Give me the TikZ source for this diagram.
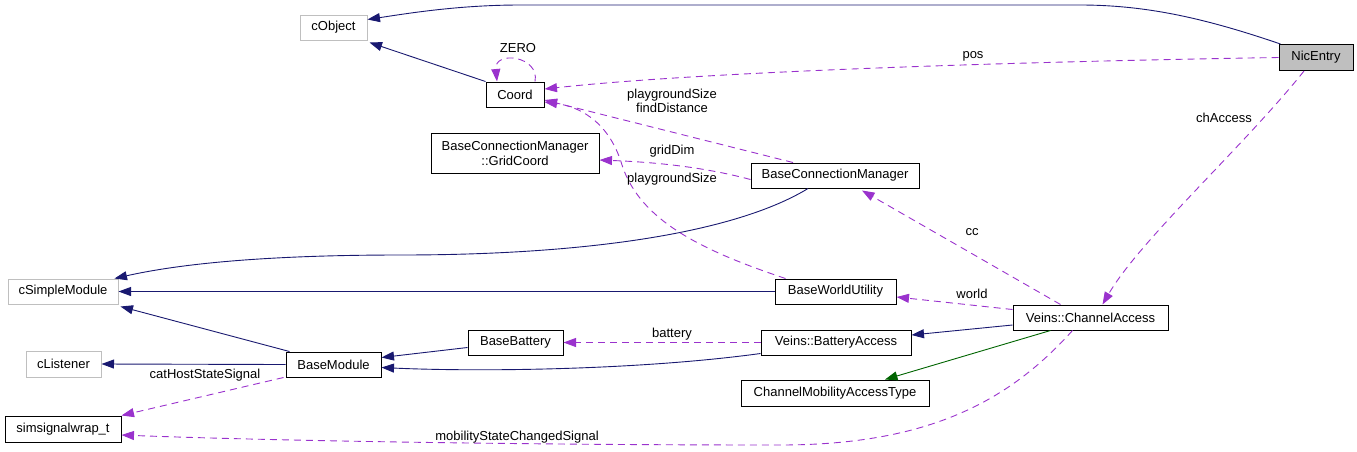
\documentclass[tikz,border=0pt]{standalone}
\usepackage{fontspec}
\setmainfont{Liberation Sans}
\usepackage{xcolor}
\usetikzlibrary{arrows.meta}

\definecolor{inhblue}{HTML}{191970}
\definecolor{usepurple}{HTML}{9A32CD}
\definecolor{tmplgreen}{HTML}{006400}
\definecolor{extgray}{HTML}{BFBFBF}

\begin{document}
\begin{tikzpicture}[x=1pt,y=-1pt,
			cls/.style={draw=black,line width=1pt,inner sep=0pt,minimum height=25,
				font=\fontsize{13}{15}\selectfont,align=center},
			ext/.style={cls,draw=extgray},
			tip/.style={-{Triangle[length=12.5pt,width=9pt]}},
			inh/.style={tip,draw=inhblue,line width=0.9pt},
			tmpl/.style={tip,draw=tmplgreen,line width=0.9pt},
			usage/.style={tip,draw=usepurple,line width=0.9pt,
				dash pattern=on 7pt off 5pt},
			lbl/.style={font=\fontsize{13}{14}\selectfont,inner sep=0pt,align=center},
			]
			\useasboundingbox (0,0) rectangle (1357,451);
			
			% 类节点（中心坐标按像素给出）
			\node[ext,minimum width=67] (cobj) at (333.5,27.5) {cObject};
			\node[cls,minimum width=58] (coord) at (515,94.5) {Coord};
			\node[cls,minimum width=168,minimum height=40] (grid) at (515,153)
				{BaseConnectionManager\\::GridCoord};
			\node[cls,minimum width=168] (bcm) at (835,175.5) {BaseConnectionManager};
			\node[cls,fill=extgray,minimum width=74,minimum height=26] (nic) at (1316,57.5) {NicEntry};
			\node[ext,minimum width=110] (csm) at (63,291.5) {cSimpleModule};
			\node[ext,minimum width=75,minimum height=26] (clis) at (63.5,364) {cListener};
			\node[cls,minimum width=116,minimum height=26] (ssw) at (63,429) {simsignalwrap\_t};
			\node[cls,minimum width=95] (bmod) at (333.5,364.5) {BaseModule};
			\node[cls,minimum width=121] (bwu) at (835.5,291.5) {BaseWorldUtility};
			\node[cls,minimum width=95] (bbat) at (515.5,342.5) {BaseBattery};
			\node[cls,minimum width=150] (bacc) at (836,342.5) {Veins::BatteryAccess};
			\node[cls,minimum width=188,minimum height=26] (cmat) at (835,393) {ChannelMobilityAccessType};
			\node[cls,minimum width=155] (cacc) at (1090.5,317.5) {Veins::ChannelAccess};
			
			% 继承关系
			\draw[inh] ([xshift=2]nic.north west) .. controls (1210,20) and (1150,5) .. (1080,5)
				-- (520,5) .. controls (460,5) and (410,13) .. ([yshift=8]cobj.east);
			\draw[inh] (coord.north west) -- ([xshift=2,yshift=-2]cobj.south east);
			\draw[inh] ([xshift=-27]bcm.south) .. controls (740,230) and (600,255) .. (400,255)
				.. controls (250,255) and (170,266) .. ([xshift=-4]csm.north east);
			\draw[inh] (bwu.west) -- (csm.east);
			\draw[inh] ([xshift=4]bmod.north west) -- ([xshift=2,yshift=-2]csm.south east);
			\draw[inh] (bmod.west) -- (clis.east);
			\draw[inh] ([yshift=-5]bbat.west) -- ([yshift=7]bmod.east);
			\draw[inh] ([yshift=2]bacc.south west) .. controls (640,370) and (480,372) .. ([yshift=-3]bmod.east);
			\draw[inh] ([yshift=-7.5]cacc.west) -- ([yshift=7.5]bacc.east);
			\draw[tmpl] ([xshift=-40]cacc.south) -- ([xshift=50]cmat.north);
			
			% 成员引用（虚线）
			\draw[usage] ([xshift=20]coord.north) .. controls (540,56) and (494,50) .. ([xshift=-18]coord.north);
			\node[lbl] (zero) at (518,48) {ZERO};
			\draw[usage] (nic.west) .. controls (1000,62) and (700,72) .. ([yshift=5.5]coord.east);
			\node[lbl] (pos) at (973,56) {pos};
			\draw[usage] ([xshift=-42]bcm.north) -- ([yshift=-5.5]coord.east);
			\node[lbl] (pgfd) at (672,101) {playgroundSize\\findDistance};
			\draw[usage] ([xshift=-50]bwu.north) .. controls (700,250) and (640,220) .. (622,165)
				.. controls (608,118) and (575,106) .. ([yshift=-7.5]coord.east);
			\node[lbl] (pgs) at (672,179) {playgroundSize};
			\draw[usage] ([yshift=-4]bcm.west) .. controls (700,166) and (650,162) .. ([yshift=-7]grid.east);
			\node[lbl] (gdim) at (672,151) {gridDim};
			\draw[usage] (bacc.west) -- (bbat.east);
			\node[lbl] (batt) at (672,334) {battery};
			\draw[usage] ([yshift=8]cacc.west) -- ([yshift=-5.5]bwu.east);
			\node[lbl] (wrld) at (972,294) {world};
			\draw[usage] ([xshift=-30]cacc.north) -- ([xshift=27,yshift=-2]bcm.south);
			\node[lbl] (ccl) at (972,232) {cc};
			\draw[usage] ([xshift=-12]nic.south) .. controls (1245,145) and (1140,240) .. ([xshift=12]cacc.north);
			\node[lbl] (chacc) at (1224,118) {chAccess};
			\draw[usage] ([xshift=-2]bmod.south west) -- (ssw.north east);
			\node[lbl] (chss) at (205,375) {catHostStateSignal};
			\draw[usage] ([xshift=-18]cacc.south) .. controls (1010,400) and (930,445) .. (780,445)
				.. controls (500,445) and (250,440) .. ([yshift=-6]ssw.east);
			\node[lbl] (mscs) at (517,437) {mobilityStateChangedSignal};
		\end{tikzpicture}
\end{document}
